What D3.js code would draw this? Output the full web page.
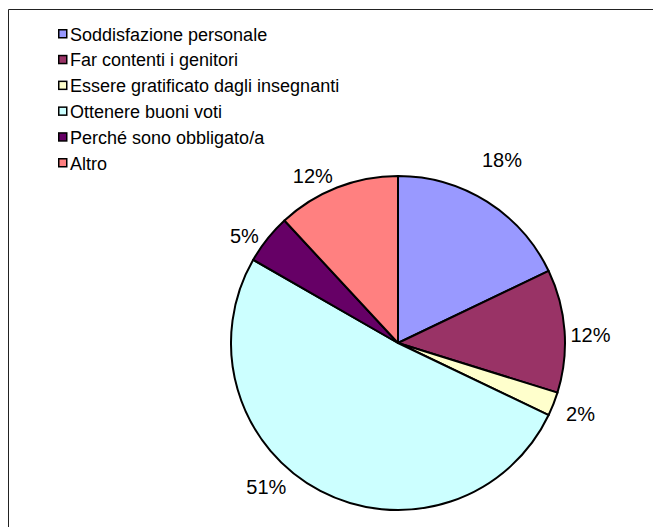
<!DOCTYPE html>
<html>
<head>
<meta charset="utf-8">
<script src="https://cdn.jsdelivr.net/npm/d3@7"></script>
<style>
  body { margin: 0; background: #fff; }
  text { font-family: "Liberation Sans", Arial, sans-serif; fill: #000; }
</style>
</head>
<body>
<div id="pie_div"></div>
<script>
const categories = [
    "Soddisfazione personale",
    "Far contenti i genitori",
    "Essere gratificato dagli insegnanti",
    "Ottenere buoni voti",
    "Perché sono obbligato/a",
    "Altro"
];
const values = [17.9, 11.9, 2.3, 51.2, 4.8, 11.9];
const percentLabels = ["18%", "12%", "2%", "51%", "5%", "12%"];
const colors = ["#9999FF", "#993366", "#FFFFCC", "#CCFFFF", "#660066", "#FF8080"];

const width = 653, height = 527;
const center = {x: 398, y: 343};
const radius = 167;

// excel placed some labels by hand, small nudges from the computed spot
const labelNudge = [[0, -18], [-2, 6], [1, 0], [-41, -29], [-1, 14], [-14, 15]];

const svg = d3.select("#pie_div")
    .append("svg")
    .attr("width", width)
    .attr("height", height);

svg.append("path")
    .attr("d", "M8.5," + height + "V9.5H" + width)
    .attr("fill", "none")
    .attr("stroke", "#222")
    .attr("stroke-width", 1);

const pie = d3.pie().sort(null).value(d => d);
const arcs = pie(values);

const arc = d3.arc().innerRadius(0).outerRadius(radius);
const labelArc = d3.arc().innerRadius(radius + 28).outerRadius(radius + 28);

const g = svg.append("g")
    .attr("transform", "translate(" + center.x + "," + center.y + ")");

g.selectAll("path")
    .data(arcs)
    .enter()
    .append("path")
    .attr("d", arc)
    .attr("fill", (d, i) => colors[i])
    .attr("stroke", "#000")
    .attr("stroke-width", 2)
    .attr("stroke-linejoin", "round");

g.selectAll("text")
    .data(arcs)
    .enter()
    .append("text")
    .attr("transform", function(d, i) {
        const c = labelArc.centroid(d);
        return "translate(" + (c[0] + labelNudge[i][0]) + "," + (c[1] + labelNudge[i][1]) + ")";
    })
    .attr("text-anchor", "middle")
    .attr("dy", "0.35em")
    .style("font-size", "20px")
    .text((d, i) => percentLabels[i]);

const legend = svg.append("g")
    .attr("transform", "translate(58,29)");

const rows = legend.selectAll("g")
    .data(categories)
    .enter()
    .append("g")
    .attr("transform", (d, i) => "translate(0," + i * 25.8 + ")");

rows.append("rect")
    .attr("x", 0.75)
    .attr("y", 0.75)
    .attr("width", 8)
    .attr("height", 8)
    .attr("fill", (d, i) => colors[i])
    .attr("stroke", "#000")
    .attr("stroke-width", 1.5);

rows.append("text")
    .attr("x", 12)
    .attr("y", 11.5)
    .style("font-size", "18px")
    .text(d => d);
</script>
</body>
</html>
